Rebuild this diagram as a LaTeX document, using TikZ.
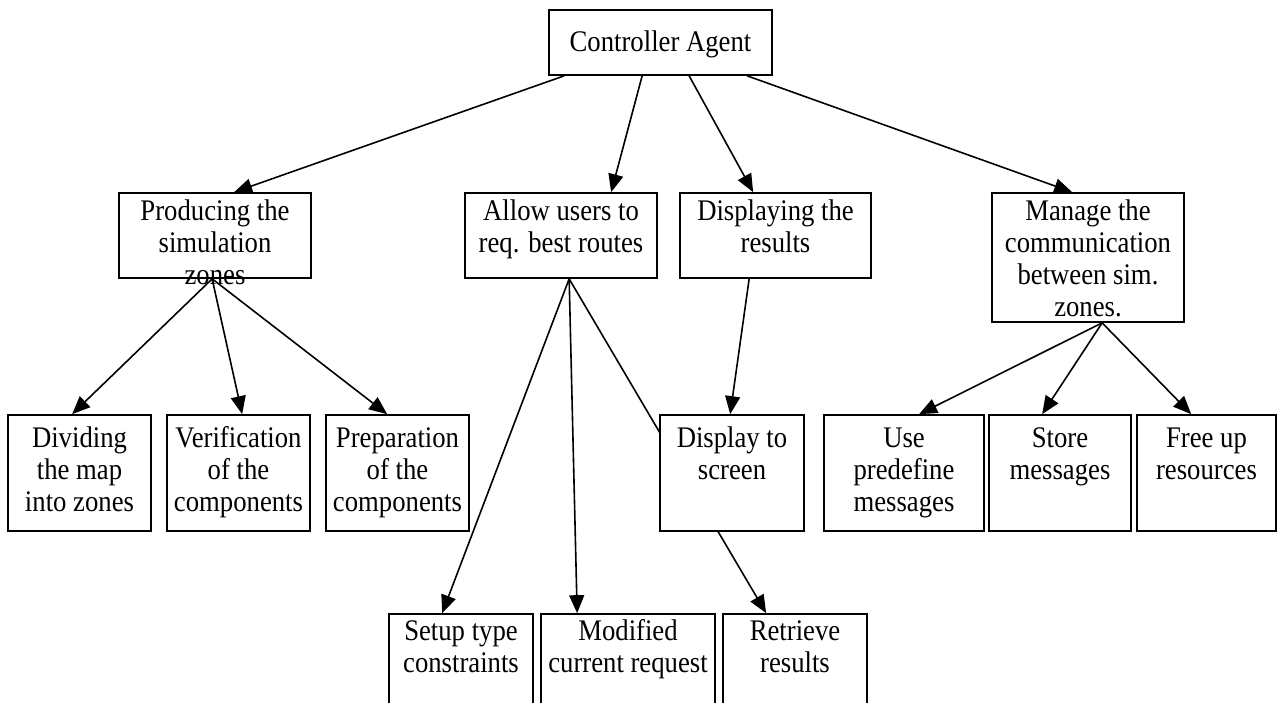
\documentclass[tikz,border=0pt]{standalone}
\usepackage{fontspec}
\usepackage{graphicx}
\setmainfont{Liberation Serif}
\usetikzlibrary{arrows.meta,calc,backgrounds}

\tikzset{
  boxframe/.style={draw=black, line width=1.7pt, fill=white, inner sep=0pt},
  boxtext/.style={anchor=north, inner sep=0pt,
                  font=\fontsize{26.7pt}{28.5pt}\selectfont},
  conn/.style={draw=black, line width=1.6pt},
  arr/.style={conn, -{Triangle[length=18pt,width=15pt]}},
}

% \flowbox[text drop]{name}{x1}{y1}{x2}{y2}{text}: framed box given by its corners,
% text (slightly tall lettering) set from the top edge downwards
\newcommand\flowbox[7][0]{%
  \node[boxframe, minimum width={(#5-#3)*1pt}, minimum height={(#6-#4)*1pt}]
       (#2) at ({(#3+#5)/2},{(#4+#6)/2}) {};
  \node[boxtext] (#2-text) at ($(#2.north)+(0,{#1+0.85})$)
       {\scalebox{1}[1.12]{\begin{tabular}[t]{@{}c@{}}#7\end{tabular}}};
}

\begin{document}
\begin{tikzpicture}[x=1pt,y=-1pt]
\useasboundingbox (0,0) rectangle (1279,702);

% ---- boxes ----
\flowbox[19]{ctrl}{549}{10}{772}{75}{Controller Agent}

\flowbox[5]{prod}{119}{193}{311}{278}{Producing the\\simulation\\zones}
\flowbox[5]{allow}{465}{193}{657}{278}{Allow users to\\req. best routes}
\flowbox[5]{disp}{680}{193}{871}{278}{Displaying the\\results}
\flowbox[5]{mgr}{992}{193}{1184}{322}{Manage the\\communication\\between sim.\\zones.}

\flowbox[10]{divide}{8}{415}{151}{531}{Dividing\\the map\\into zones}
\flowbox[10]{verify}{167}{415}{310}{531}{Verification\\of the\\components}
\flowbox[10]{prep}{326}{415}{469}{531}{Preparation\\of the\\components}
\flowbox[10]{screen}{660}{415}{804}{531}{Display to\\screen}
\flowbox[10]{usepre}{824}{415}{984}{531}{Use\\predefine\\messages}
\flowbox[10]{store}{989}{415}{1131}{531}{Store\\messages}
\flowbox[10]{freeup}{1137}{415}{1276}{531}{Free up\\resources}

\flowbox[4]{setup}{389}{614}{533}{716}{Setup type\\constraints}
\flowbox[4]{modif}{541}{614}{715}{716}{Modified\\current request}
\flowbox[4]{retr}{723}{614}{867}{716}{Retrieve\\results}

% ---- connectors (behind the boxes) ----
\begin{scope}[on background layer]
  \fill[white] (0,0) rectangle (1279,702);

  \draw[arr] ($(ctrl.south west)+(16,0)$)  -- ($(prod.north west)+(116,0)$);
  \draw[arr] ($(ctrl.south west)+(94,0)$)  -- ($(allow.north west)+(147,0)$);
  \draw[arr] ($(ctrl.south west)+(141,0)$) -- ($(disp.north west)+(74,0)$);
  \draw[arr] ($(ctrl.south west)+(199,0)$) -- ($(mgr.north west)+(81,0)$);

  \draw[arr] ($(prod.south west)+(94,0)$) -- ($(divide.north west)+(65,0)$);
  \draw[arr] ($(prod.south west)+(94,0)$) -- ($(verify.north west)+(76,0)$);
  \draw[arr] ($(prod.south west)+(94,0)$) -- ($(prep.north west)+(62,0)$);

  \draw[arr] ($(allow.south west)+(105,0)$) -- ($(setup.north west)+(54,0)$);
  \draw[arr] ($(allow.south west)+(105,0)$) -- ($(modif.north west)+(37,0)$);
  \draw[arr] ($(allow.south west)+(105,0)$) -- ($(retr.north west)+(44,0)$);

  \draw[arr] ($(disp.south west)+(70,0)$) -- ($(screen.north west)+(71,0)$);

  \draw[arr] ($(mgr.south west)+(111,0)$) -- ($(usepre.north west)+(96,0)$);
  \draw[arr] ($(mgr.south west)+(111,0)$) -- ($(store.north west)+(54,0)$);
  \draw[arr] ($(mgr.south west)+(111,0)$) -- ($(freeup.north west)+(55,0)$);
\end{scope}
\end{tikzpicture}
\end{document}
